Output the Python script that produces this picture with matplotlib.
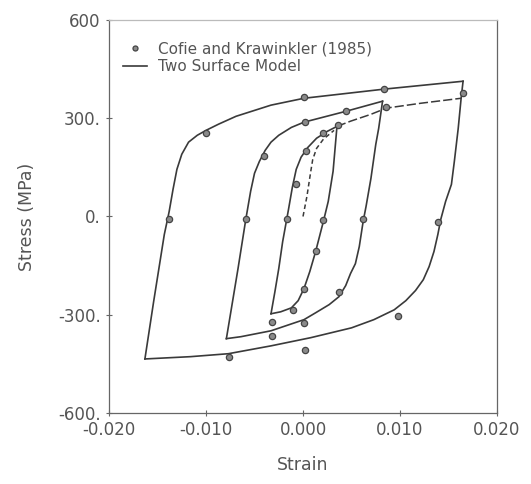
import matplotlib
matplotlib.use('Agg')
import matplotlib.pyplot as plt

# model curves (strain, stress in MPa)
outer_down_e = [0.0165, 0.0163, 0.0160, 0.0156, 0.0153, 0.0147, 0.0142, 0.0139, 0.0135, 0.0130,
                0.0124, 0.0116, 0.0106, 0.0094, 0.0073, 0.0050, 0.0008, -0.0033, -0.0077,
                -0.0116, -0.0163]
outer_down_s = [413, 361, 269, 168, 98, 46, -9, -55, -107, -153,
                -193, -226, -257, -285, -315, -340, -370, -395, -419,
                -428, -435]
outer_up_e = [-0.0163, -0.0154, -0.0143, -0.0138, -0.0134, -0.0130, -0.0125, -0.0118, -0.0109,
              -0.0100, -0.0087, -0.0069, -0.0033, 0.0001, 0.0084, 0.0165]
outer_up_s = [-435, -260, -55, 15, 83, 144, 190, 227, 248, 263, 282, 306, 340, 361, 389, 413]

med_up_e = [-0.0079, -0.0067, -0.0059, -0.0054, -0.0050, -0.0045, -0.0039, -0.0033, -0.0025,
            -0.0012, 0.0001, 0.0044, 0.0082]
med_up_s = [-373, -159, -9, 77, 132, 168, 202, 227, 248, 272, 288, 321, 352]
med_down_e = [0.0082, 0.0078, 0.0075, 0.0070, 0.0065, 0.0062, 0.0058, 0.0054, 0.0049, 0.0044,
              0.0037, 0.0027, 0.0013, 0.0001, -0.0033, -0.0064, -0.0079]
med_down_s = [352, 269, 220, 116, 31, -15, -92, -144, -174, -211,
              -245, -269, -294, -315, -349, -367, -373]

inner_up_e = [-0.0033, -0.0029, -0.0025, -0.0021, -0.0015, -0.0011, -0.0007, -0.0002, 0.0005,
              0.0014, 0.0025, 0.0035]
inner_up_s = [-297, -230, -159, -77, 21, 89, 144, 181, 211, 239, 260, 275]
inner_down_e = [0.0035, 0.0031, 0.0026, 0.0021, 0.0013, 0.0007, 0.0001, -0.0005, -0.0012,
                -0.0023, -0.0033]
inner_down_s = [275, 138, 46, -15, -107, -168, -220, -257, -279, -291, -297]

initial_e = [0.0, 0.0004, 0.0008, 0.0010, 0.0014, 0.0021, 0.0032]
initial_s = [0, 61, 138, 174, 208, 236, 263]
reload_e = [0.0035, 0.0049, 0.0070, 0.0086, 0.0122, 0.0163]
reload_s = [275, 291, 312, 331, 346, 361]

# test points, Cofie and Krawinkler (1985)
test_e = [-0.0138, -0.0100, 0.0001, 0.0084, 0.0165, 0.0139, 0.0098, 0.0002, -0.0076,
          -0.0059, -0.0040, 0.0002, 0.0044, 0.0086, 0.0062, 0.0037, 0.0001, -0.0032,
          -0.0016, -0.0007, 0.0003, 0.0021, 0.0036, 0.0021, 0.0013, 0.0001, -0.0010, -0.0032]
test_s = [-9, 254, 364, 389, 376, -18, -303, -407, -429,
          -9, 184, 288, 321, 334, -9, -230, -324, -364,
          -9, 98, 199, 254, 279, -12, -104, -220, -285, -321]

xticks = [-0.020, -0.010, 0.000, 0.010, 0.020]
xticklabels = ['-0.020', '-0.010', '0.000', '0.010', '0.020']
yticks = [-600, -300, 0, 300, 600]
yticklabels = ['-600.', '-300.', '0.', '300.', '600']

LC = '#3a3a3a'
TC = '#555555'

fig = plt.figure(figsize=(5.31, 4.84), dpi=100)
ax = fig.add_axes([0.2053, 0.1467, 0.7307, 0.812])

ax.plot(outer_down_e, outer_down_s, color=LC, lw=1.2, label='Two Surface Model')
ax.plot(outer_up_e, outer_up_s, color=LC, lw=1.2)
ax.plot(med_up_e, med_up_s, color=LC, lw=1.2)
ax.plot(med_down_e, med_down_s, color=LC, lw=1.2)
ax.plot(inner_up_e, inner_up_s, color=LC, lw=1.2)
ax.plot(inner_down_e, inner_down_s, color=LC, lw=1.2)
ax.plot(initial_e, initial_s, color=LC, lw=1.1, linestyle=(0, (3, 2)))
ax.plot(reload_e, reload_s, color=LC, lw=1.1, linestyle=(0, (6, 2)))

ax.plot(test_e, test_s, linestyle='none', marker='o', markersize=4.5,
        markerfacecolor='#8a8a8a', markeredgecolor='#444444', markeredgewidth=0.9,
        label='Cofie and Krawinkler (1985)')

ax.set_xlim(-0.02, 0.02)
ax.set_ylim(-600, 600)
ax.set_xticks(xticks)
ax.set_xticklabels(xticklabels)
ax.set_yticks(yticks)
ax.set_yticklabels(yticklabels)
ax.tick_params(direction='inout', length=5, width=0.8, colors='#666666',
               labelcolor=TC, labelsize=12)
for sp in ax.spines.values():
    sp.set_color('#666666')
    sp.set_linewidth(0.9)
ax.spines['top'].set_color('#bbbbbb')

ax.set_xlabel('Strain', fontsize=12.5, color=TC, labelpad=12)
ax.set_ylabel('Stress (MPa)', fontsize=12.5, color=TC, labelpad=16)

h, l = ax.get_legend_handles_labels()
leg = ax.legend(h[::-1], l[::-1], loc='upper left', bbox_to_anchor=(0.02, 0.96),
                borderaxespad=0, frameon=False, fontsize=11, handlelength=1.6,
                handletextpad=0.7, labelspacing=0.15, markerscale=0.8)
for t in leg.get_texts():
    t.set_color(TC)

plt.savefig('out.png', dpi=100)
